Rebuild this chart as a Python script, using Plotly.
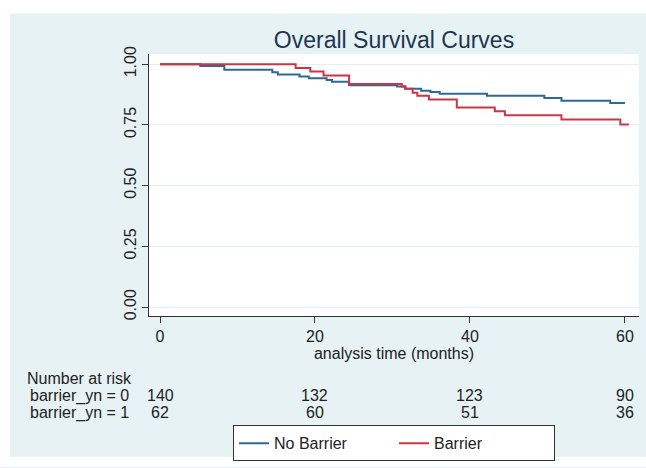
import plotly.graph_objects as go

# ---- data ----
nobar_time = [0, 5.2, 8.3, 14.5, 15.2, 18.0, 19.2, 21.5, 22.2, 24.4, 30.6, 31.7, 33.7,
              34.9, 36.1, 42.2, 49.6, 51.8, 58.1, 60.0]
nobar_surv = [1.0, 0.992, 0.977, 0.967, 0.957, 0.949, 0.942, 0.935, 0.928, 0.913, 0.908,
              0.899, 0.891, 0.885, 0.878, 0.870, 0.861, 0.849, 0.840, 0.840]

bar_time = [0, 17.5, 19.4, 21.1, 24.4, 31.2, 31.6, 32.6, 33.2, 34.7, 38.3, 43.2, 44.5,
            51.8, 59.4, 60.5]
bar_surv = [1.0, 0.984, 0.970, 0.953, 0.918, 0.908, 0.899, 0.882, 0.870, 0.855, 0.822,
            0.806, 0.790, 0.772, 0.752, 0.752]

risk_times = [0, 20, 40, 60]
risk_group0 = [140, 132, 123, 90]
risk_group1 = [62, 60, 51, 36]
risk_labels = ["barrier_yn = 0", "barrier_yn = 1"]

x_ticks = [0, 20, 40, 60]
y_ticks = [0.0, 0.25, 0.5, 0.75, 1.0]

# ---- layout geometry (pixels) ----
W, H = 646, 468
L, R, T, B = 149, 639, 54, 320
pw, ph = R - L, B - T


def px_x(px):
    return (px - L) / pw


def px_y(py):
    return (B - py) / ph


BLUE = "#2b6a96"
RED = "#cf3446"
BG = "#e6f2f4"
FONT = "Liberation Sans, Arial, sans-serif"
TXT = "#222"
FS = 16

fig = go.Figure()
fig.add_trace(go.Scatter(x=nobar_time, y=nobar_surv, mode="lines", line_shape="hv",
                         line=dict(color=BLUE, width=2), name="No Barrier"))
fig.add_trace(go.Scatter(x=bar_time, y=bar_surv, mode="lines", line_shape="hv",
                         line=dict(color=RED, width=2), name="Barrier"))

# white outer border strips around the bluish graph region
for (x0, x1, y0, y1) in [(-5, 10, -5, H + 5), (-5, W + 5, -5, 13), (-5, W + 5, 463, H + 5)]:
    fig.add_shape(type="rect", xref="paper", yref="paper",
                  x0=px_x(x0), x1=px_x(x1), y0=px_y(y1), y1=px_y(y0),
                  fillcolor="white", line=dict(width=0), layer="below")

annotations = []
annotations.append(dict(text="Number at risk", xref="paper", yref="paper",
                        x=px_x(25), y=px_y(383), xanchor="left", yanchor="middle",
                        showarrow=False, font=dict(size=FS, color=TXT)))
for lab, row, ypx in zip(risk_labels, [risk_group0, risk_group1], [401, 418]):
    annotations.append(dict(text=lab, xref="paper", yref="paper",
                            x=px_x(28), y=px_y(ypx), xanchor="left", yanchor="middle",
                            showarrow=False, font=dict(size=FS, color=TXT)))
    for t, n in zip(risk_times, row):
        annotations.append(dict(text=str(n), xref="x", yref="paper",
                                x=t, y=px_y(ypx), xanchor="center", yanchor="middle",
                                showarrow=False, font=dict(size=FS, color=TXT)))

fig.update_layout(
    width=W, height=H,
    margin=dict(l=L, r=W - R, t=T, b=H - B),
    paper_bgcolor=BG,
    plot_bgcolor="white",
    font=dict(family=FONT, size=FS, color=TXT),
    title=dict(text="Overall Survival Curves", x=394 / W, xref="container",
               y=1 - 40 / H, yref="container", xanchor="center", yanchor="middle",
               font=dict(size=23, color="#1e3652")),
    xaxis=dict(range=[-1.42, 61.81], tickvals=x_ticks, ticks="outside", ticklen=6,
               tickcolor="#333", showline=True, linecolor="#333", linewidth=1,
               showgrid=False, zeroline=False,
               title=dict(text="analysis time (months)", standoff=0,
                          font=dict(size=FS, color=TXT)),
               tickfont=dict(size=FS, color=TXT)),
    yaxis=dict(range=[-0.0365, 1.0418], tickvals=y_ticks, tickformat=".2f",
               ticks="outside", ticklen=6, tickcolor="#333", tickangle=-90,
               showline=True, linecolor="#333", linewidth=1,
               showgrid=True, gridcolor="#e3f0f2", gridwidth=1, zeroline=False,
               tickfont=dict(size=FS, color=TXT)),
    showlegend=True,
    legend=dict(orientation="h", xref="paper", yref="paper",
                x=px_x(394), y=px_y(431), xanchor="center", yanchor="top",
                bgcolor="white", bordercolor="#333", borderwidth=1,
                entrywidth=115, font=dict(size=FS, color=TXT),
                tracegroupgap=0),
    annotations=annotations,
)

fig.write_html("out.html", config={"displayModeBar": False},
               post_script="document.body.style.margin='0';")
